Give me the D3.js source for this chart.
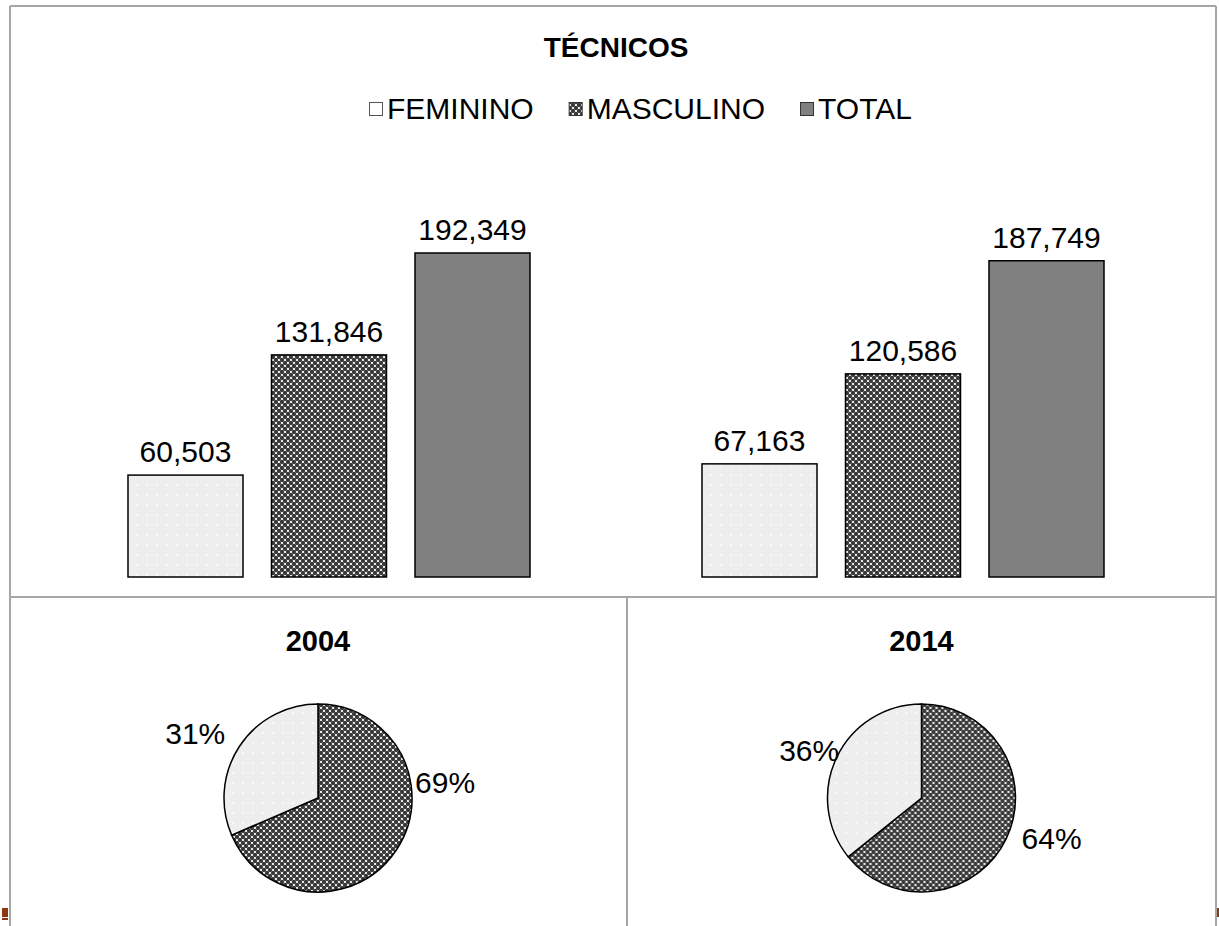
<!DOCTYPE html>
<html>
<head>
<meta charset="utf-8">
<script src="https://cdn.jsdelivr.net/npm/d3@7"></script>
<style>
  body { margin: 0; background: #fff; }
  svg { display: block; font-family: "Liberation Sans", Arial, sans-serif; }
</style>
</head>
<body>
<svg id="chart" width="1219" height="926"></svg>
<script>
// data
let years = ["2004", "2014"];
let series = ["FEMININO", "MASCULINO", "TOTAL"];
let feminino = [60503, 67163];
let masculino = [131846, 120586];
let total = [192349, 187749];

let width = 1219, height = 926;
let svg = d3.select("#chart");
let frameColor = "#a6a6a6";

// patterns
let defs = svg.append("defs");
let pf = defs.append("pattern").attr("id", "patFem")
    .attr("width", 10).attr("height", 10).attr("patternUnits", "userSpaceOnUse");
pf.append("rect").attr("width", 10).attr("height", 10).attr("fill", "#eeeeee");
pf.append("circle").attr("cx", 5).attr("cy", 5).attr("r", 1).attr("fill", "#fff");

let pm = defs.append("pattern").attr("id", "patMasc")
    .attr("width", 6).attr("height", 6).attr("patternUnits", "userSpaceOnUse");
pm.append("rect").attr("width", 6).attr("height", 6).attr("fill", "#fff");
[[3, 3], [0, 0], [6, 0], [0, 6], [6, 6]].forEach(c => {
    pm.append("circle").attr("cx", c[0]).attr("cy", c[1]).attr("r", 2.15).attr("fill", "#383838");
});

let fills = { FEMININO: "url(#patFem)", MASCULINO: "url(#patMasc)", TOTAL: "#808080" };

function label(g, x, y, txt, size, weight, anchor) {
    return g.append("text")
        .attr("x", x)
        .attr("y", y)
        .attr("text-anchor", anchor || "middle")
        .attr("font-size", size + "px")
        .attr("font-weight", weight || "normal")
        .attr("fill", "#000")
        .text(txt);
}

// frame lines
let frame = svg.append("g").attr("stroke", frameColor).attr("stroke-width", 2);
frame.append("line").attr("x1", 10).attr("x2", 1216).attr("y1", 6).attr("y2", 6);
frame.append("line").attr("x1", 10).attr("x2", 10).attr("y1", 6).attr("y2", height);
frame.append("line").attr("x1", 1216).attr("x2", 1216).attr("y1", 6).attr("y2", height);
frame.append("line").attr("x1", 10).attr("x2", 1216).attr("y1", 597).attr("y2", 597);
frame.append("line").attr("x1", 627).attr("x2", 627).attr("y1", 597).attr("y2", height);

// small marks at the bottom corners
svg.append("rect").attr("x", 2).attr("y", 908).attr("width", 6).attr("height", 9).attr("fill", "#8b3a0e");
svg.append("rect").attr("x", 2).attr("y", 918).attr("width", 6).attr("height", 2).attr("fill", "#8b3a0e");
svg.append("rect").attr("x", 1217).attr("y", 908).attr("width", 2).attr("height", 9).attr("fill", "#8b3a0e");

// ---- bar chart ----
let barG = svg.append("g");
label(barG, 616, 57, "TÉCNICOS", 28, "bold");

// legend
let legend = barG.append("g");
let lx = 369;
series.forEach(s => {
    let item = legend.append("g");
    item.append("rect").attr("x", lx + 0.5).attr("y", 102.5).attr("width", 13).attr("height", 13)
        .attr("fill", s === "FEMININO" ? "#fff" : fills[s])
        .attr("stroke", s === "FEMININO" ? "#555" : "#333").attr("stroke-width", 1);
    let t = label(item, lx + 18, 119, s, 30, "normal", "start");
    lx += 18 + t.node().getComputedTextLength() + 35;
});

let baseY = 577;
let y = d3.scaleLinear().domain([0, 250000]).range([baseY, baseY - 250000 * 324 / 192349]);
let x0 = d3.scaleBand().domain(years).range([42, 1190]);
let x1 = d3.scaleBand().domain(series).range([0, x0.bandwidth()])
    .paddingInner(0.1986).paddingOuter(0.5993);

let rows = years.map((yr, i) => ({
    year: yr,
    values: [
        { key: "FEMININO", value: feminino[i] },
        { key: "MASCULINO", value: masculino[i] },
        { key: "TOTAL", value: total[i] }
    ]
}));

let groups = barG.selectAll(".yr")
    .data(rows)
    .enter()
    .append("g")
    .attr("transform", d => `translate(${x0(d.year)},0)`);

groups.selectAll("rect")
    .data(d => d.values)
    .enter()
    .append("rect")
    .attr("x", d => x1(d.key))
    .attr("y", d => y(d.value))
    .attr("width", x1.bandwidth())
    .attr("height", d => baseY - y(d.value))
    .attr("fill", d => fills[d.key])
    .attr("stroke", "#000")
    .attr("stroke-width", 1.5);

groups.each(function (d) {
    let g = d3.select(this);
    d.values.forEach(v => {
        label(g, x1(v.key) + x1.bandwidth() / 2, y(v.value) - 13, d3.format(",")(v.value), 30);
    });
});

// ---- pies ----
let pieCenters = [318, 921.5];
let pieCy = 798, radius = 94;
let labelDeg = [[83, 298], [107, 293]];
let labelR = [[128, 139], [136, 122]];
let pie = d3.pie().sort(null).value(d => d.value)
    .startAngle(0).endAngle(2 * Math.PI);
let arc = d3.arc().innerRadius(0).outerRadius(radius);

years.forEach((yr, i) => {
    let g = svg.append("g");
    label(g, pieCenters[i], 651, yr, 29, "bold");
    let slices = pie([
        { key: "MASCULINO", value: masculino[i] },
        { key: "FEMININO", value: feminino[i] }
    ]);
    let pg = g.append("g").attr("transform", `translate(${pieCenters[i]},${pieCy})`);
    pg.selectAll("path")
        .data(slices)
        .enter()
        .append("path")
        .attr("d", arc)
        .attr("fill", d => fills[d.data.key])
        .attr("stroke", "#000")
        .attr("stroke-width", 1.5);
    slices.forEach((s, j) => {
        let a = labelDeg[i][j] * Math.PI / 180;
        let r = labelR[i][j];
        let pct = Math.round(s.data.value / total[i] * 100) + "%";
        label(pg, Math.sin(a) * r, -Math.cos(a) * r + 11, pct, 30);
    });
});
</script>
</body>
</html>
